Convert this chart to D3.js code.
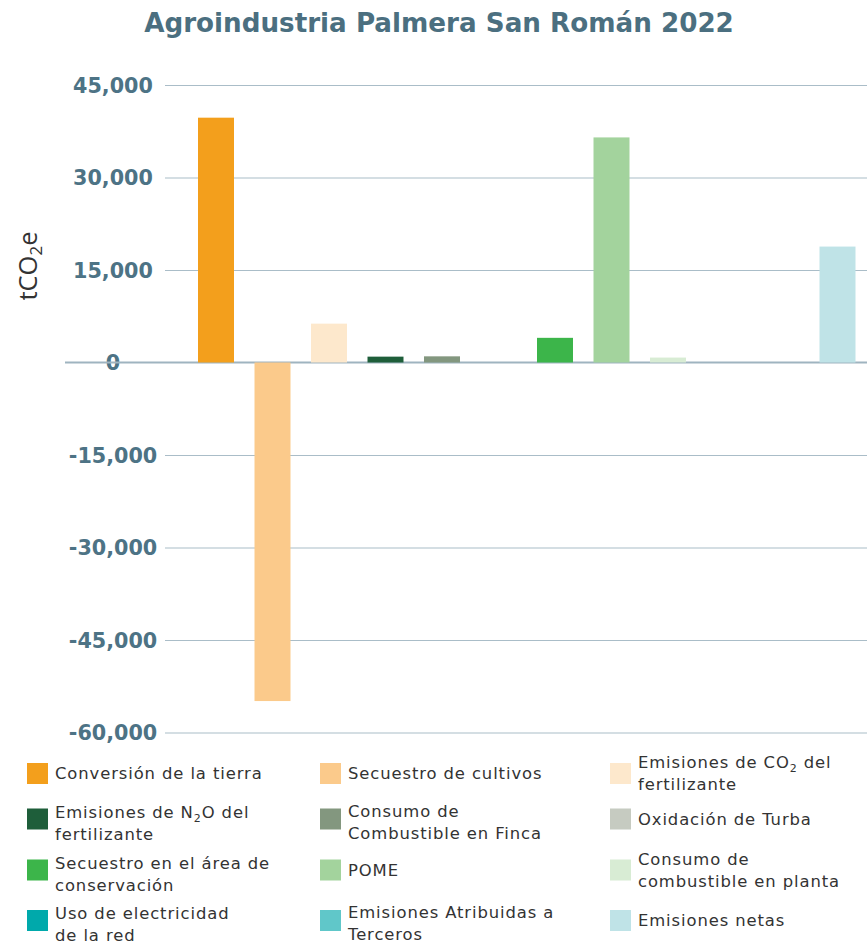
<!DOCTYPE html>
<html>
<head>
<meta charset="utf-8">
<script src="https://cdn.jsdelivr.net/npm/d3@7"></script>
<style>
  html, body { margin: 0; padding: 0; background: #ffffff; }
  svg { display: block; }
</style>
</head>
<body>
<svg id="chart" width="867" height="947"></svg>
<script>
// ---- data ----
const title = "Agroindustria Palmera San Román 2022";
const categories = [
  "Conversión de la tierra",
  "Secuestro de cultivos",
  "Emisiones de CO2 del fertilizante",
  "Emisiones de N2O del fertilizante",
  "Consumo de Combustible en Finca",
  "Oxidación de Turba",
  "Secuestro en el área de conservación",
  "POME",
  "Consumo de combustible en planta",
  "Uso de electricidad de la red",
  "Emisiones Atribuidas a Terceros",
  "Emisiones netas"
];
const values = [39700, -54900, 6300, 950, 1000, 0, 4000, 36500, 800, 0, 0, 18800];
// legend lines; "_2" marks a subscript 2
const legendLines = [
  ["Conversión de la tierra"],
  ["Secuestro de cultivos"],
  ["Emisiones de CO_2 del", "fertilizante"],
  ["Emisiones de N_2O del", "fertilizante"],
  ["Consumo de", "Combustible en Finca"],
  ["Oxidación de Turba"],
  ["Secuestro en el área de", "conservación"],
  ["POME"],
  ["Consumo de", "combustible en planta"],
  ["Uso de electricidad", "de la red"],
  ["Emisiones Atribuidas a", "Terceros"],
  ["Emisiones netas"]
];
const colors = [
  "#f39f1c", "#fbca8b", "#fde8cc",
  "#1e5e3a", "#83977f", "#c6cbc1",
  "#3cb54a", "#a3d39d", "#d8ecd4",
  "#00a9ab", "#60c7c9", "#bfe3e7"
];
const yTicks = [45000, 30000, 15000, 0, -15000, -30000, -45000, -60000];
const yDomain = [-60000, 45000];

// ---- drawing ----
const svg = d3.select("#chart");
const W = 867;

const y = d3.scaleLinear().domain(yDomain).range([732.5, 85]);
const x = d3.scaleBand().domain(categories)
  .range([187.75, 865.75]).paddingInner(0.363).paddingOuter(0.1815);

// title
svg.append("text")
  .attr("x", 439).attr("y", 32)
  .attr("text-anchor", "middle")
  .attr("font-family", "'DejaVu Sans', sans-serif")
  .attr("font-weight", "bold")
  .attr("font-size", 26.2)
  .attr("fill", "#4b6f80")
  .text(title);

// axis + gridlines
const gridLeft = 165;
const fmt = d3.format(",");
const axis = d3.axisLeft(y).tickValues(yTicks)
  .tickSize(-(W - gridLeft))
  .tickFormat(d => fmt(d).replace("\u2212", "-"));
const gAxis = svg.append("g").attr("transform", `translate(${gridLeft},0)`).call(axis);
gAxis.select(".domain").remove();
gAxis.selectAll(".tick line").attr("stroke", "#aabdc8").attr("stroke-width", 1.2);
gAxis.selectAll(".tick text")
  .attr("x", 113 - gridLeft)
  .attr("text-anchor", "middle")
  .attr("dy", "0.36em")
  .attr("font-family", "'DejaVu Sans', sans-serif")
  .attr("font-weight", "bold")
  .attr("font-size", 20.7)
  .attr("fill", "#4d7385");
gAxis.selectAll(".tick").filter(d => d === 0).select("line").remove();

// zero line
svg.append("line")
  .attr("x1", 65).attr("x2", W)
  .attr("y1", y(0)).attr("y2", y(0))
  .attr("stroke", "#9fb4c0").attr("stroke-width", 2.2);

// bars
svg.append("g").selectAll("rect")
  .data(categories)
  .join("rect")
  .attr("x", d => x(d))
  .attr("width", x.bandwidth())
  .attr("y", (d, i) => y(Math.max(0, values[i])))
  .attr("height", (d, i) => Math.abs(y(values[i]) - y(0)))
  .attr("fill", (d, i) => colors[i]);

// y axis title
const yt = svg.append("text")
  .attr("transform", "translate(37,266) rotate(-90)")
  .attr("text-anchor", "middle")
  .attr("font-family", "'Open Sans', sans-serif")
  .attr("font-size", 25.5)
  .attr("fill", "#333333");
yt.append("tspan").text("tCO");
yt.append("tspan").attr("font-size", 17).attr("dy", 5).text("2");
yt.append("tspan").attr("dy", -5).text("e");

// legend
const colX = [27, 320, 610];
const colTextShift = [4, 3, 0];
const rowY = [773.5, 819, 870, 920.5];
const sq = 21;
const lineH = 22;
const legend = svg.append("g");
legendLines.forEach((lines, i) => {
  const c = i % 3;
  const cx = colX[c];
  const cy = rowY[Math.floor(i / 3)];
  legend.append("rect")
    .attr("x", cx).attr("y", cy - sq / 2)
    .attr("width", sq).attr("height", sq)
    .attr("fill", colors[i]);
  const n = lines.length;
  lines.forEach((ln, j) => {
    const ty = cy + (j - (n - 1) / 2) * lineH + (n > 1 ? colTextShift[c] : 0);
    const t = legend.append("text")
      .attr("x", cx + 28).attr("y", ty)
      .attr("dy", "0.35em")
      .attr("font-family", "'DejaVu Sans', sans-serif")
      .attr("font-size", 16.4)
      .attr("letter-spacing", 0.9)
      .attr("fill", "#333333");
    const parts = ln.split("_2");
    parts.forEach((p, k) => {
      if (k > 0) {
        t.append("tspan").attr("font-size", 11).attr("dy", 4).text("2");
        t.append("tspan").attr("dy", -4).text(p);
      } else {
        t.append("tspan").text(p);
      }
    });
  });
});
</script>
</body>
</html>
